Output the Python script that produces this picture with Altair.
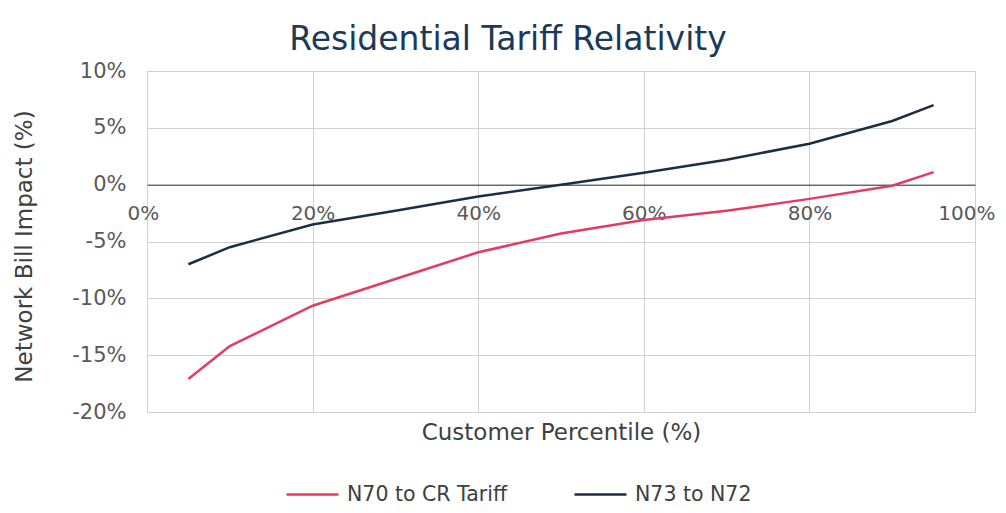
import altair as alt
import pandas as pd

# ---- data ----
percentiles = [5, 10, 20, 30, 40, 50, 60, 70, 80, 90, 95]
n70_to_cr = [-17.1, -14.2, -10.65, -8.3, -5.95, -4.3, -3.1, -2.3, -1.25, -0.1, 1.1]
n73_to_n72 = [-7.0, -5.5, -3.5, -2.3, -1.05, 0.0, 1.05, 2.2, 3.6, 5.6, 7.0]
series_names = ["N70 to CR Tariff", "N73 to N72"]
series_colors = ["#E33B62", "#1D2E44"]
x_ticks = [0, 20, 40, 60, 80, 100]
y_ticks = [-20, -15, -10, -5, 0, 5, 10]

rows = []
for p, a, b in zip(percentiles, n70_to_cr, n73_to_n72):
    rows.append({"pct": p, "val": a, "series": series_names[0]})
    rows.append({"pct": p, "val": b, "series": series_names[1]})
df = pd.DataFrame(rows)

W, H = 828, 341
Y0 = H * 10 / 30  # pixel position of zero line from top
FONT = "DejaVu Sans"

chart = alt.Chart(df).mark_line(strokeWidth=2.5).encode(
    x=alt.X(
        "pct:Q",
        scale=alt.Scale(domain=[0, 100], nice=False, zero=False),
        axis=alt.Axis(
            values=x_ticks,
            labelExpr="datum.value + '%'",
            grid=True,
            gridColor="#D0D0D0",
            ticks=False,
            domain=True,
            domainColor="#333333",
            domainWidth=1,
            offset=-(H - Y0),
            labelPadding=19,
            labelFontSize=20,
            labelFont=FONT,
            labelColor="#595959",
            labelFlush=True,
            labelFlushOffset=20,
            labelOverlap=False,
            title="Customer Percentile (%)",
            titleFont=FONT,
            titleFontSize=23,
            titleFontWeight="normal",
            titleColor="#404040",
            titleX=W / 2,
            titleY=248,
            titleBaseline="middle",
            titleAlign="center",
        ),
    ),
    y=alt.Y(
        "val:Q",
        scale=alt.Scale(domain=[-20, 10], nice=False, zero=False),
        axis=alt.Axis(
            values=y_ticks,
            labelExpr="datum.value + '%'",
            grid=True,
            gridColor="#D0D0D0",
            ticks=False,
            domain=False,
            labelPadding=21,
            labelFontSize=21,
            labelFont=FONT,
            labelColor="#595959",
            labelFlush=False,
            labelOverlap=False,
            title="Network Bill Impact (%)",
            titleFont=FONT,
            titleFontSize=23,
            titleFontWeight="normal",
            titleColor="#404040",
            titleAngle=270,
            titleX=-123,
            titleY=175,
            titleBaseline="middle",
            titleAlign="center",
        ),
    ),
    color=alt.Color(
        "series:N",
        scale=alt.Scale(domain=series_names, range=series_colors),
        legend=alt.Legend(
            orient="none",
            legendX=138,
            legendY=396,
            direction="horizontal",
            title=None,
            symbolType="stroke",
            symbolSize=2704,
            symbolStrokeWidth=2.5,
            labelFont=FONT,
            labelFontSize=20.5,
            labelColor="#404040",
            labelOffset=7,
            labelLimit=400,
            columnPadding=61,
            padding=0,
        ),
    ),
).properties(
    width=W,
    height=H,
    title=alt.TitleParams(
        "Residential Tariff Relativity",
        font=FONT,
        fontSize=33,
        fontWeight="normal",
        color="#1B3A5A",
        anchor="middle",
        dx=-53,
        dy=42,
        offset=19,
        baseline="alphabetic",
    ),
    autosize=alt.AutoSizeParams(type="none"),
    padding={"left": 139, "top": 63, "right": 23, "bottom": 93},
).configure_view(stroke="#D0D0D0", strokeWidth=1)

chart.save("out.html", embed_options={"renderer": "svg", "actions": False})
